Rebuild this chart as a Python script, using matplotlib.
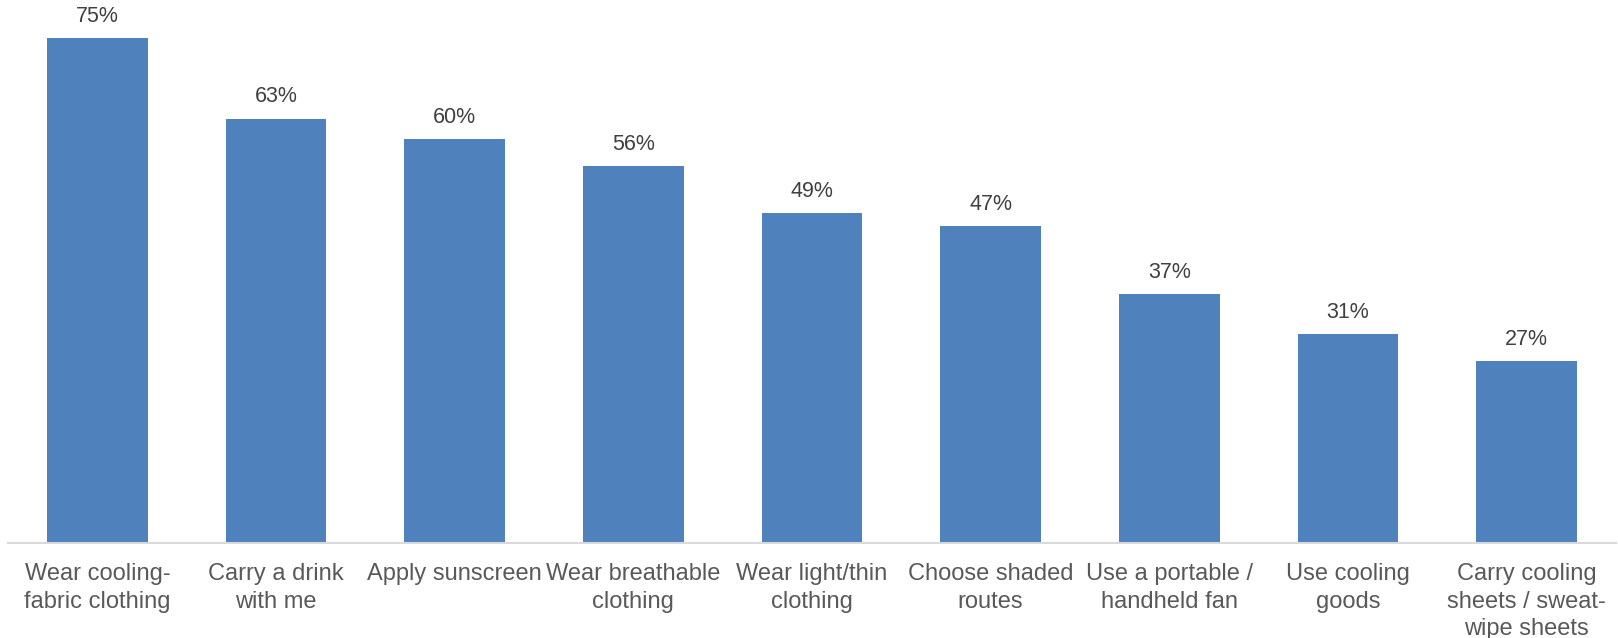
import matplotlib.pyplot as plt

plt.rcParams['font.family'] = ['Liberation Sans', 'DejaVu Sans']

# cooling measures and share of respondents (%)
categories = [
    "Wear cooling-\nfabric clothing",
    "Carry a drink\nwith me",
    "Apply sunscreen",
    "Wear breathable\nclothing",
    "Wear light/thin\nclothing",
    "Choose shaded\nroutes",
    "Use a portable /\nhandheld fan",
    "Use cooling\ngoods",
    "Carry cooling\nsheets / sweat-\nwipe sheets",
]
shares = [75, 63, 60, 56, 49, 47, 37, 31, 27]

fig = plt.figure(figsize=(16.18, 6.38), dpi=100)
ax = fig.add_axes([8 / 1618, 95 / 638, 1608 / 1618, 543 / 638])

x = range(len(categories))
bars = ax.bar(x, shares, width=0.565, color="#4F81BD")

for rect, v in zip(bars, shares):
    ax.annotate(f"{v}%", (rect.get_x() + rect.get_width() / 2, v),
                xytext=(0, 8), textcoords="offset points",
                ha="center", va="bottom", fontsize=15.5, color="#404040")

ax.set_xlim(-0.5, len(categories) - 0.5)
ax.set_ylim(0, 80.6)
ax.set_xticks(list(x))
ax.set_xticklabels(categories, fontsize=17, color="#595959", linespacing=1.33)
ax.tick_params(axis="x", length=0, pad=14.5)
ax.set_yticks([])
for side in ["top", "right", "left"]:
    ax.spines[side].set_visible(False)
ax.spines["bottom"].set_color("#D9D9D9")
ax.spines["bottom"].set_linewidth(1.5)

fig.savefig("out.png", dpi=100)
